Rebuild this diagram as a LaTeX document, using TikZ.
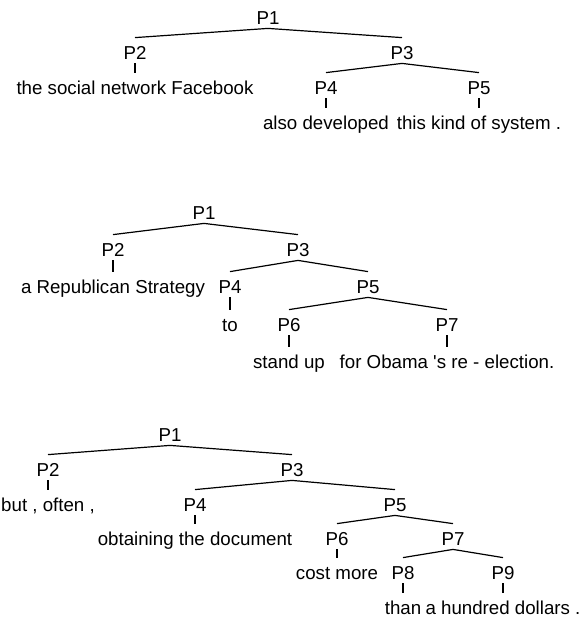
\documentclass[tikz,border=0pt]{standalone}
\usepackage{fontspec}
\setmainfont{Liberation Sans}
\usepackage{tikz}
\usetikzlibrary{positioning}

\tikzset{
  lbl/.style={font=\fontsize{9.35}{11}\selectfont, inner sep=0pt,
    text height=10.85pt, text depth=1.65pt, anchor=base, yshift=-3.35pt},
  branch/.style={line width=0.6pt, black}
}

\begin{document}
\begin{tikzpicture}[x=0.5pt, y=-0.5pt]
\useasboundingbox (0,0) rectangle (579,617);

% First sentence
\node[lbl] (t1p1) at (268,18) {P1};
\node[lbl] (t1p2) at (135,53) {P2};
\node[lbl] (t1p3) at (402,53) {P3};
\node[lbl] (t1w2) at (135,88) {the social network Facebook};
\node[lbl] (t1p4) at (326,88) {P4};
\node[lbl] (t1p5) at (479,88) {P5};
\node[lbl] (t1w4) at (326,123) {also developed};
\node[lbl] (t1w5) at (479,123) {this kind of system .};

% Second sentence
\node[lbl] (t2p1) at (204,213) {P1};
\node[lbl] (t2p2) at (113,250) {P2};
\node[lbl] (t2p3) at (298,250) {P3};
\node[lbl] (t2w2) at (113,287) {a Republican Strategy};
\node[lbl] (t2p4) at (230,287) {P4};
\node[lbl] (t2p5) at (368,287) {P5};
\node[lbl] (t2w4) at (230,325) {to};
\node[lbl] (t2p6) at (289,325) {P6};
\node[lbl] (t2p7) at (447,325) {P7};
\node[lbl] (t2w6) at (289,362) {stand up};
\node[lbl] (t2w7) at (447,362) {for Obama \textquotesingle s re - election.};

% Third sentence
\node[lbl] (t3p1) at (170,435) {P1};
\node[lbl] (t3p2) at (48,470) {P2};
\node[lbl] (t3p3) at (292,470) {P3};
\node[lbl] (t3w2) at (48,505) {but , often ,};
\node[lbl] (t3p4) at (195,505) {P4};
\node[lbl] (t3p5) at (395,505) {P5};
\node[lbl] (t3w4) at (195,539) {obtaining the document};
\node[lbl] (t3p6) at (337,539) {P6};
\node[lbl] (t3p7) at (453,539) {P7};
\node[lbl] (t3w6) at (337,573) {cost more};
\node[lbl] (t3p8) at (403,573) {P8};
\node[lbl] (t3p9) at (503,573) {P9};
\node[lbl] (t3w8) at (403,608) {than};
\node[lbl] (t3w9) at (503,608) {a hundred dollars .};

% Branches and ticks
\foreach \a/\b in {t1p1/t1p2, t1p1/t1p3, t1p2/t1w2, t1p3/t1p4, t1p3/t1p5,
    t1p4/t1w4, t1p5/t1w5,
    t2p1/t2p2, t2p1/t2p3, t2p2/t2w2, t2p3/t2p4, t2p3/t2p5, t2p4/t2w4,
    t2p5/t2p6, t2p5/t2p7, t2p6/t2w6, t2p7/t2w7,
    t3p1/t3p2, t3p1/t3p3, t3p2/t3w2, t3p3/t3p4, t3p3/t3p5, t3p4/t3w4,
    t3p5/t3p6, t3p5/t3p7, t3p6/t3w6, t3p7/t3p8, t3p7/t3p9,
    t3p8/t3w8, t3p9/t3w9}
  \draw[branch] (\a.south) -- (\b.north);
\end{tikzpicture}
\end{document}
